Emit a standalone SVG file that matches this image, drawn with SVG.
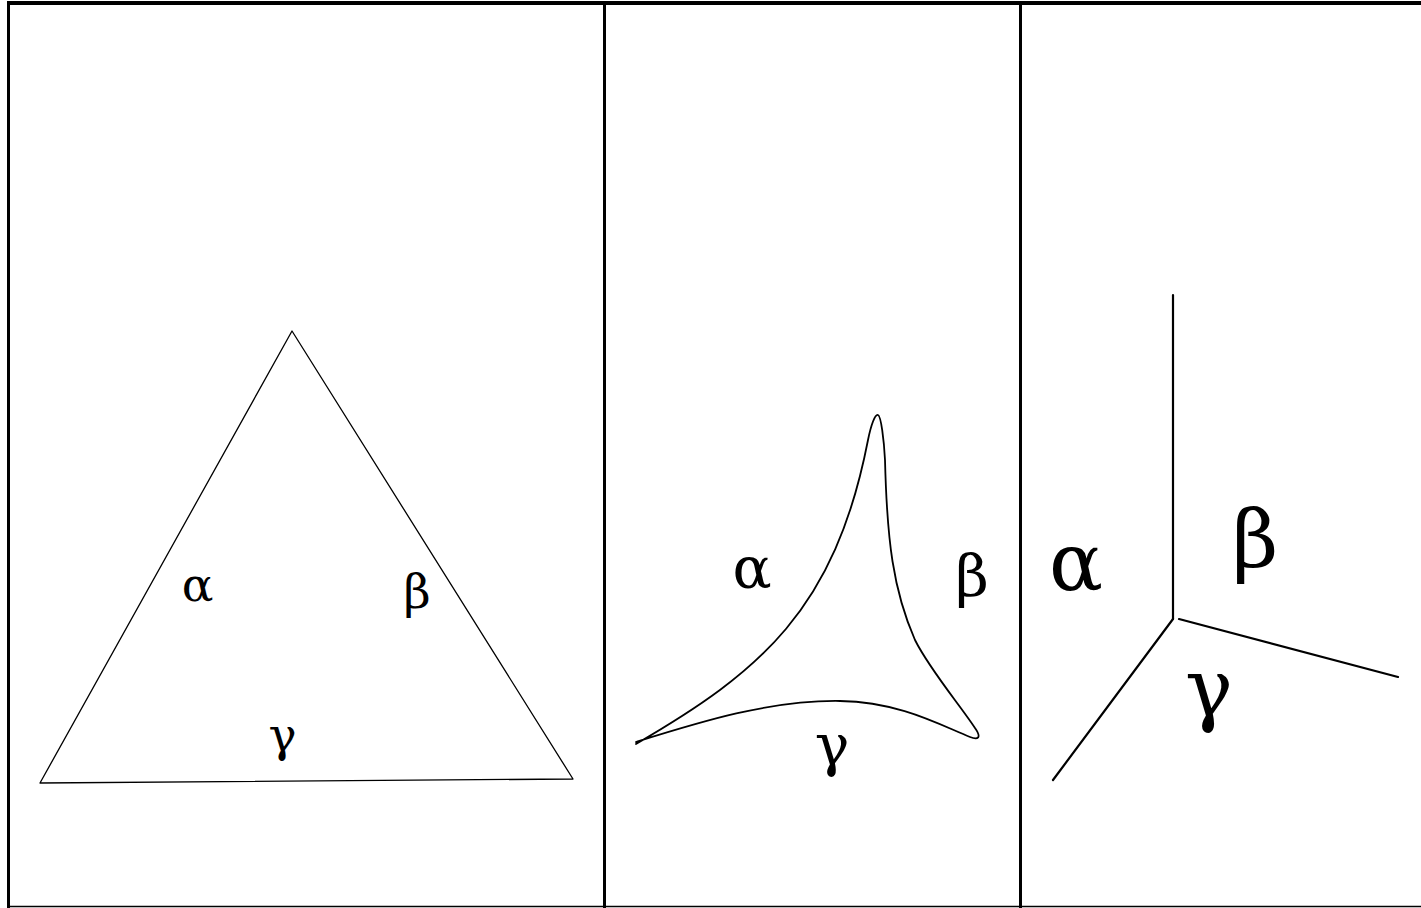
<svg xmlns="http://www.w3.org/2000/svg" width="1421" height="908" viewBox="0 0 1421 908">
<style>
.frame{stroke:#000;fill:none}
.shape{stroke:#000;fill:none;stroke-linejoin:round;stroke-linecap:round}
.lbl{font-family:"DejaVu Serif","Liberation Serif",serif;fill:#000;text-anchor:middle}
</style>
<rect width="1421" height="908" fill="#fff"/>
<g id="frame" class="frame">
<line x1="7" y1="3" x2="1421" y2="3" stroke-width="4"/>
<line x1="8.5" y1="1" x2="8.5" y2="908" stroke-width="3"/>
<line x1="604.5" y1="3" x2="604.5" y2="908" stroke-width="3"/>
<line x1="1020.5" y1="3" x2="1020.5" y2="908" stroke-width="3"/>
<line x1="7" y1="906.5" x2="1421" y2="906.5" stroke-width="1.5"/>
</g>
<g id="panel1">
<path class="shape" d="M292,331 L573,779 L40,783 Z" stroke-width="1.3"/>
<text class="lbl" x="197.5" y="601" font-size="47">α</text>
<text class="lbl" x="417" y="608" font-size="47">β</text>
<text class="lbl" x="282.5" y="751" font-size="47">γ</text>
</g>
<g id="panel2">
<path class="shape" stroke-width="1.8" d="M636,744 C760,672 835,610 868,440 C871,425 875,414 878,415 C881,416 884,440 885,460 C887,540 893,590 915,640 C930,670 960,705 975,728 C982,738 978,740 970,737 C940,725 900,702 840,701 C770,700 700,722 636,742"/>
<text class="lbl" x="752" y="588" font-size="58">α</text>
<text class="lbl" x="972" y="596" font-size="58">β</text>
<text class="lbl" x="832" y="765" font-size="58">γ</text>
</g>
<g id="panel3">
<g class="shape" stroke-width="2.2">
<line x1="1173" y1="295" x2="1173" y2="619"/>
<line x1="1173" y1="619" x2="1053" y2="780"/>
<line x1="1179" y1="619" x2="1398" y2="677"/>
</g>
<text class="lbl" x="1076" y="590" font-size="80">α</text>
<text class="lbl" x="1255" y="567" font-size="80">β</text>
<text class="lbl" x="1209" y="716" font-size="80">γ</text>
</g>
</svg>
